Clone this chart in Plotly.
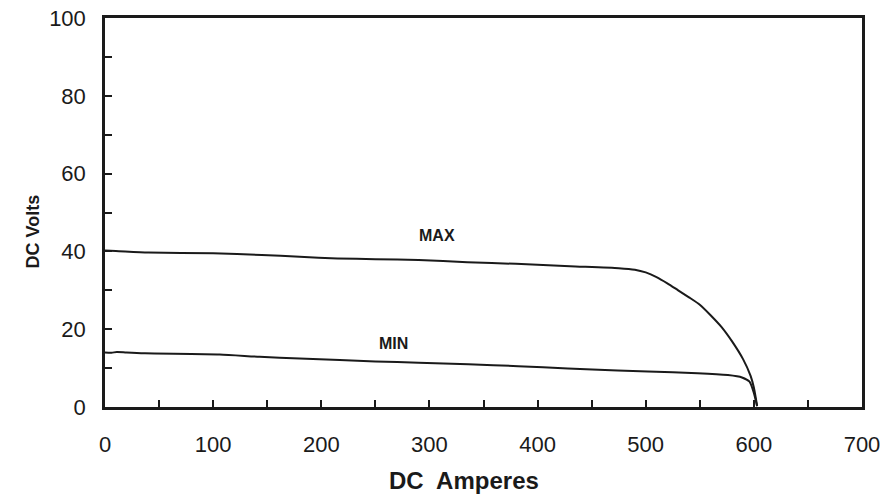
import plotly.graph_objects as go

# MAX curve (DC Amperes, DC Volts)
max_amps = [0, 10, 40, 100, 145, 180, 215, 250, 290, 335, 380, 430, 475, 490, 500, 510, 520, 530, 540, 550, 560, 570, 580, 590, 597, 600, 603]
max_volts = [40.2, 40.1, 39.7, 39.5, 39.1, 38.6, 38.2, 38.0, 37.8, 37.2, 36.8, 36.2, 35.7, 35.3, 34.6, 33.4, 31.8, 30.0, 28.2, 26.3, 23.6, 20.6, 16.8, 12.3, 8.0, 5.0, 0.3]

# MIN curve
min_amps = [0, 6, 11, 20, 37, 106, 143, 180, 217, 250, 290, 336, 382, 428, 474, 502, 548, 576, 589, 596, 600, 603]
min_volts = [14.0, 13.95, 14.15, 14.0, 13.8, 13.5, 12.9, 12.5, 12.1, 11.7, 11.4, 11.0, 10.5, 9.9, 9.4, 9.1, 8.7, 8.2, 7.6, 6.5, 3.6, 0.2]

x_ticks = [0, 100, 200, 300, 400, 500, 600, 700]
y_ticks = [0, 20, 40, 60, 80, 100]

FONT = 'Liberation Sans, Arial, sans-serif'
INK = '#1a1a1a'

fig = go.Figure()

fig.add_trace(go.Scatter(x=max_amps, y=max_volts, mode='lines', name='MAX',
                         line=dict(color=INK, width=2, shape='spline', smoothing=0.6)))
fig.add_trace(go.Scatter(x=min_amps, y=min_volts, mode='lines', name='MIN',
                         line=dict(color=INK, width=2, shape='spline', smoothing=0.6)))

# Curve labels
fig.add_annotation(x=307, y=44.2, text='<b>MAX</b>', showarrow=False,
                   font=dict(family=FONT, size=16, color=INK))
fig.add_annotation(x=267, y=16.4, text='<b>MIN</b>', showarrow=False,
                   font=dict(family=FONT, size=16, color=INK))

# Axis titles (slightly off-centre in the original, so placed by hand)
fig.add_annotation(xref='paper', yref='paper', x=0.474, y=-0.19, yanchor='middle',
                   text='<b>DC  Amperes</b>', showarrow=False,
                   font=dict(family=FONT, size=24, color=INK))
fig.add_annotation(xref='paper', yref='paper', x=-0.111, y=0.451, textangle=-90,
                   text='<b>DC Volts</b>', showarrow=False,
                   font=dict(family=FONT, size=18, color=INK))

axis_common = dict(
    showline=True, linecolor=INK, linewidth=2.5, mirror=True,
    ticks='inside', ticklen=7, tickwidth=2, tickcolor=INK,
    showgrid=False, zeroline=False, automargin=False,
    tickfont=dict(family=FONT, size=22, color=INK),
)

fig.update_layout(
    width=885, height=499,
    margin=dict(l=105, r=23, t=18, b=92),
    paper_bgcolor='white', plot_bgcolor='white',
    showlegend=False,
    xaxis=dict(
        range=[0, 700], tickvals=x_ticks,
        minor=dict(ticks='inside', dtick=50, tick0=0, ticklen=7, tickwidth=2, tickcolor=INK),
        ticklabelstandoff=16,
        **axis_common
    ),
    yaxis=dict(
        range=[0, 100], tickvals=y_ticks,
        minor=dict(ticks='inside', dtick=10, tick0=0, ticklen=7, tickwidth=2, tickcolor=INK),
        ticklabelstandoff=12,
        **axis_common
    ),
)

# drop the default 8px body margin so the figure sits at the page corner
fig.write_html("out.html", config={'displayModeBar': False},
               post_script="document.body.style.margin='0';")
